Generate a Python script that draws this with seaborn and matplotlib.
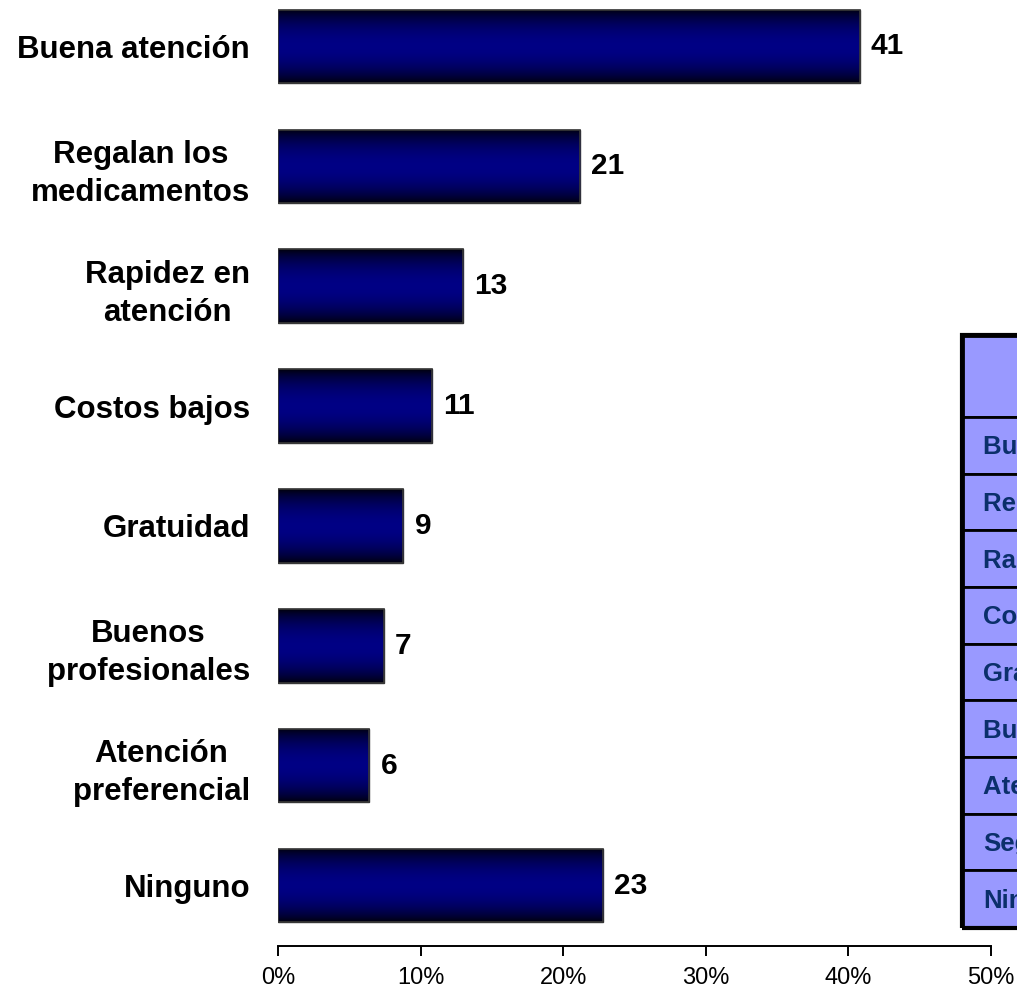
import numpy as np
import pandas as pd
import matplotlib
matplotlib.use("Agg")
import matplotlib.pyplot as plt
import seaborn as sns
from matplotlib.patches import Rectangle
from matplotlib.ticker import PercentFormatter, MultipleLocator

# data
categories = ["Buena atención", "Regalan los\nmedicamentos", "Rapidez en\natención",
              "Costos bajos", "Gratuidad", "Buenos\nprofesionales",
              "Atención\npreferencial", "Ninguno"]
values = [40.8, 21.2, 13.0, 10.8, 8.8, 7.4, 6.4, 22.8]
table_rows = ["Buena atención", "Regalan los medicamentos", "Rapidez en atención",
              "Costos bajos", "Gratuidad", "Buenos profesionales",
              "Atención preferencial", "Seguridad", "Ninguno"]

sns.set_style("white")
plt.rcParams["font.family"] = ["Liberation Sans", "DejaVu Sans"]
plt.rcParams["text.color"] = "black"

W, H = 1017, 993
fig = plt.figure(figsize=(W / 100, H / 100), dpi=100)
ax = fig.add_axes([278 / W, (H - 945.8) / H, (991 - 278) / W, 959.6 / H])

df = pd.DataFrame({"cat": categories, "val": values})
sns.barplot(data=df, x="val", y="cat", orient="h", color="#000080",
            width=0.61, edgecolor="#333333", linewidth=1, ax=ax)

# vertical black-navy-black gradient on each bar
t = np.linspace(0, 1, 256)
prof = np.sin(np.pi * t) ** 0.7
grad = np.zeros((256, 1, 3))
grad[:, 0, 2] = 0.50 * prof + 0.02
for p in list(ax.patches):
    x0, y0, w, h = p.get_x(), p.get_y(), p.get_width(), p.get_height()
    im = ax.imshow(grad, extent=(x0, x0 + w, y0 + h, y0), aspect="auto",
                   zorder=2, interpolation="bilinear")
    im.set_clip_path(p)
    ax.add_patch(Rectangle((x0, y0), w, h, fill=False, edgecolor="#3a3a3a",
                           linewidth=1.2, zorder=3))

ax.set_xlim(0, 50)
ax.set_ylim(7.5, -0.5)

for i, v in enumerate(values):
    ax.annotate(f"{round(v)}", (v, i), xytext=(8, 0), textcoords="offset points",
                ha="left", va="center", fontsize=21.5, fontweight="bold", color="black")

ax.xaxis.set_major_locator(MultipleLocator(10))
ax.xaxis.set_major_formatter(PercentFormatter(xmax=100, decimals=0))
ax.tick_params(axis="x", direction="out", length=7.5, width=1.4, pad=8,
               labelsize=17, colors="black", bottom=True)
ax.tick_params(axis="y", length=0, pad=20, labelsize=22.5, labelcolor="black")
for lab in ax.get_yticklabels():
    lab.set_fontweight("bold")
    lab.set_multialignment("center")
    lab.set_linespacing(1.35)
ax.set_xlabel("")
ax.set_ylabel("")
for s in ["top", "right", "left"]:
    ax.spines[s].set_visible(False)
ax.spines["bottom"].set_linewidth(1.4)
ax.spines["bottom"].set_color("black")

# partly visible table at the right edge
tab_left, tab_top, tab_bottom = 963, 336, 927
header_h = 81
row_h = (tab_bottom - tab_top - header_h) / len(table_rows)
tw = 300
def fx(px):
    return px / W
def fy(py):
    return (H - py) / H

fig.add_artist(Rectangle((fx(tab_left), fy(tab_top + header_h)), tw / W, header_h / H,
                         transform=fig.transFigure, facecolor="#9999ff",
                         edgecolor="black", linewidth=2))
for k, name in enumerate(table_rows):
    top = tab_top + header_h + k * row_h
    fig.add_artist(Rectangle((fx(tab_left), fy(top + row_h)), tw / W, row_h / H,
                             transform=fig.transFigure, facecolor="#9999ff",
                             edgecolor="black", linewidth=2))
    fig.text(fx(tab_left + 20), fy(top + row_h / 2 + 2), name, ha="left", va="center",
             fontsize=18.5, fontweight="bold", color="#0b2f6b")
fig.add_artist(Rectangle((fx(tab_left - 1), fy(tab_bottom + 1)), tw / W,
                         (tab_bottom - tab_top + 2) / H, transform=fig.transFigure,
                         fill=False, edgecolor="black", linewidth=3))

fig.savefig("out.png", dpi=100)
